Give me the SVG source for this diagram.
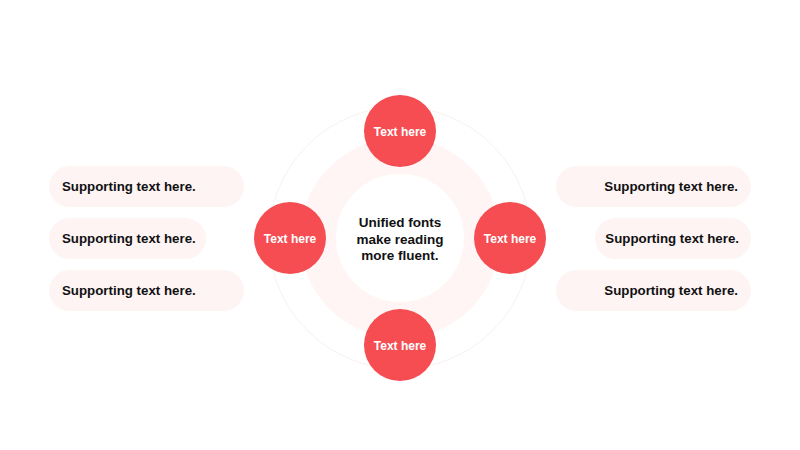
<svg xmlns="http://www.w3.org/2000/svg" width="800" height="450" viewBox="0 0 800 450">
<style>
.pill{fill:#fef4f4}
.dot{fill:#f54d52}
.st{font-family:"Liberation Sans",Arial,sans-serif;font-weight:bold;font-size:13.3px;fill:#111}
.dt{font-family:"Liberation Sans",Arial,sans-serif;font-weight:bold;font-size:12px;fill:#fff;text-anchor:middle}
.ct{font-family:"Liberation Sans",Arial,sans-serif;font-weight:bold;font-size:13.5px;fill:#111;text-anchor:middle}
</style>
<rect width="800" height="450" fill="#fff"/>
<g id="rings">
<circle cx="400" cy="238" r="131" fill="none" stroke="#f7f1f1" stroke-width="1"/>
<circle cx="400" cy="238" r="82" fill="none" stroke="#fff5f5" stroke-width="36"/>
</g>
<g id="center"><text class="ct" x="400" y="227">Unified fonts</text><text class="ct" x="400" y="243.5">make reading</text><text class="ct" x="400" y="260">more fluent.</text></g>
<g id="connectors"></g>
<g id="top"><circle class="dot" cx="400" cy="131" r="36"/><text class="dt" x="400" y="135.5">Text here</text></g>
<g id="left"><circle class="dot" cx="290" cy="238" r="36"/><text class="dt" x="290" y="242.5">Text here</text></g>
<g id="right"><circle class="dot" cx="510" cy="238" r="36"/><text class="dt" x="510" y="242.5">Text here</text></g>
<g id="bottom"><circle class="dot" cx="400" cy="345" r="36"/><text class="dt" x="400" y="349.5">Text here</text></g>
<g id="l1"><rect class="pill" x="49" y="166" width="195" height="41" rx="20.5"/><text class="st" x="62" y="191">Supporting text here.</text></g>
<g id="l2"><rect class="pill" x="49" y="218" width="157" height="41" rx="20.5"/><text class="st" x="62" y="243">Supporting text here.</text></g>
<g id="l3"><rect class="pill" x="49" y="270" width="195" height="41" rx="20.5"/><text class="st" x="62" y="295">Supporting text here.</text></g>
<g id="r1"><rect class="pill" x="556" y="166" width="195" height="41" rx="20.5"/><text class="st" x="738" y="191" text-anchor="end">Supporting text here.</text></g>
<g id="r2"><rect class="pill" x="595" y="218" width="156" height="41" rx="20.5"/><text class="st" x="739" y="243" text-anchor="end">Supporting text here.</text></g>
<g id="r3"><rect class="pill" x="556" y="270" width="195" height="41" rx="20.5"/><text class="st" x="738" y="295" text-anchor="end">Supporting text here.</text></g>
</svg>
